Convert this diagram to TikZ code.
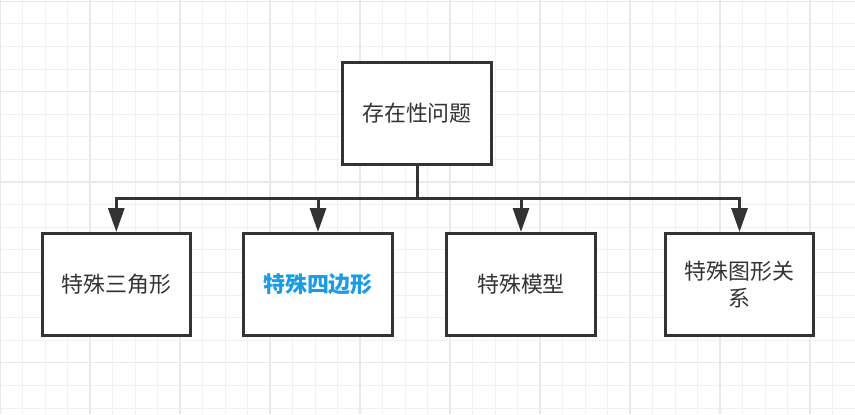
\documentclass[tikz,border=0pt]{standalone}
\usepackage{fontspec}
\newfontfamily\cjk{Noto Sans CJK SC}
\usetikzlibrary{arrows.meta}
\definecolor{ink}{HTML}{333333}
\definecolor{gridminor}{HTML}{F1F1F1}
\definecolor{gridmajor}{HTML}{E9E9E9}
\definecolor{hl}{HTML}{1A9BE6}
\begin{document}
\begin{tikzpicture}[x=1bp,y=-1bp,
  box/.style={draw=ink, line width=3bp, fill=white, minimum width=148.5bp, minimum height=102bp,
    inner sep=0pt, font=\cjk\fontsize{22}{27}\selectfont, text=ink, align=center},
  conn/.style={draw=ink, line width=3bp},
  arr/.style={conn, -{Triangle[length=24bp,width=16bp]}},
  gminor/.style={draw=gridminor, line width=1bp},
  gmajor/.style={draw=gridmajor, line width=1.2bp}]
\useasboundingbox (0,0) rectangle (855,414);
\fill[white] (0,0) rectangle (855,414);
% grid
\foreach \i in {0,...,38} \draw[gminor] (22.5*\i,0) -- (22.5*\i,414);
\foreach \j in {0,...,18} \draw[gminor] (0,1.2+22.6*\j) -- (855,1.2+22.6*\j);
\foreach \i in {0,4,...,36} \draw[gmajor] (22.5*\i,0) -- (22.5*\i,414);
\foreach \j in {0,4,...,16} \draw[gmajor] (0,1.2+22.6*\j) -- (855,1.2+22.6*\j);
% nodes
\node[box] (top) at (417,113.5) {存在性问题};
\node[box] (b1) at (116.3,284.5) {特殊三角形};
\node[box, text=hl, font=\cjk\bfseries\fontsize{22}{27}\selectfont] (b2) at (318,284.5) {特殊四边形};
\node[box] (b3) at (521,284.5) {特殊模型};
\node[box] (b4) at (739.5,284.5) {特殊图形关\\系};
% connectors
\coordinate (j) at (417,198.3);
\draw[conn] (top.south) -- (j);
\draw[arr] (j) -| (b1.north);
\draw[arr] (j) -| (b2.north);
\draw[arr] (j) -| (b3.north);
\draw[arr] (j) -| (b4.north);
\end{tikzpicture}
\end{document}
